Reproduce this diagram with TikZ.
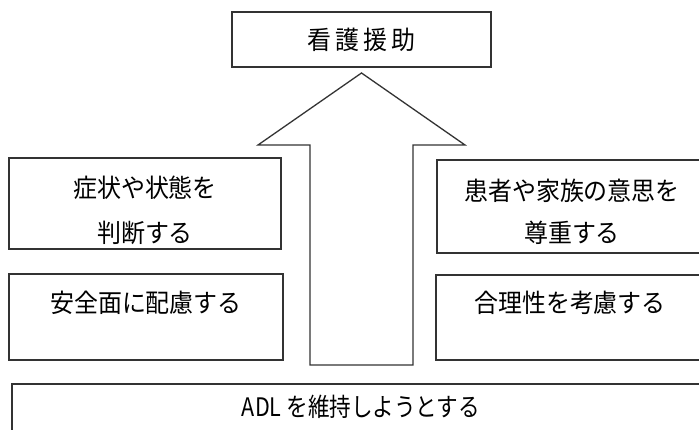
\documentclass[tikz,border=0pt]{standalone}
\usepackage{fontspec}
\usepackage{graphicx}
\setmainfont[FakeStretch=0.94]{Noto Sans CJK JP}
\definecolor{edge}{HTML}{333333}
\tikzset{
  box/.style={draw=edge, line width=1.3pt, rectangle, inner sep=0pt, fill=white},
  txt/.style={font=\fontsize{25.5}{27}\selectfont, text=black, inner sep=0pt},
}
\begin{document}
\begin{tikzpicture}[x=1pt,y=-1pt]
\useasboundingbox (0,0) rectangle (699,430);
\clip (0,0) rectangle (699,430);
% top box
\node[box, minimum width=259pt, minimum height=55pt] (top) at (361.5,39.5) {};
\node[txt] (ttop) at (top.center) {看\hspace{4pt}護\hspace{4pt}援\hspace{4pt}助};
% arrow
\coordinate (sl) at (310,365);
\coordinate (sr) at (413,365);
\coordinate (tip) at (361.5,73);
\draw[edge, line width=1.3pt, line join=miter, fill=white]
  (sl) -- (310,145) -- (258,145) -- (tip) -- (465,145) -- (413,145) -- (sr) -- cycle;
% left boxes
\node[box, minimum width=272pt, minimum height=91pt] (l1) at (145,203.5) {};
\node[txt] (l1a) at (145,188) {症状や状態を};
\node[txt] (l1b) at (145,233) {判断する};
\node[box, minimum width=274pt, minimum height=86pt] (l2) at (146,317) {};
\node[txt] (l2a) at (146,303) {安全面に配慮する};
% right boxes
\node[box, minimum width=272pt, minimum height=93pt] (r1) at (573,206.5) {};
\node[txt] (r1a) at (572,191) {患者や家族の意思を};
\node[txt] (r1b) at (572,233) {尊重する};
\node[box, minimum width=270pt, minimum height=85pt] (r2) at (571,317.5) {};
\node[txt] (r2a) at (570,303) {合理性を考慮する};
% bottom box
\node[box, minimum width=698pt, minimum height=100pt] (bot) at (361,434) {};
\node[txt] (bota) at (361,407) {\scalebox{0.9}[1]{ADL を維持しようとする}};
\end{tikzpicture}
\end{document}
